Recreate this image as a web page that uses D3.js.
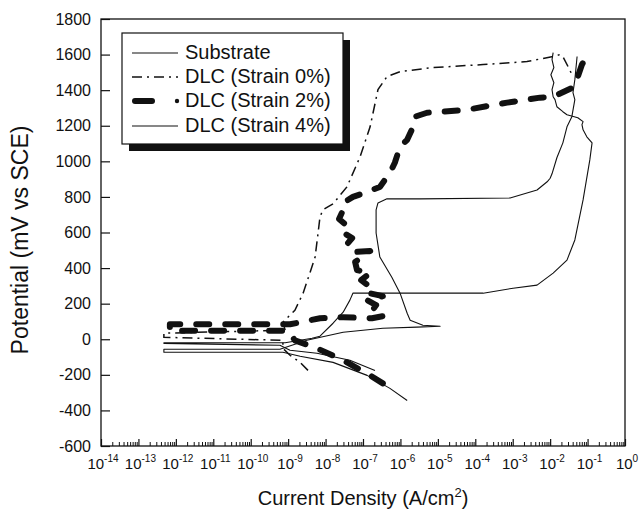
<!DOCTYPE html>
<html>
<head>
<meta charset="utf-8">
<script src="https://cdn.jsdelivr.net/npm/d3@7"></script>
<style>
  body { margin: 0; background: #fff; }
  svg { font-family: "Liberation Sans", Arial, sans-serif; }
  .thin { fill: none; stroke: #111; stroke-width: 1.1; stroke-linejoin: round; }
  .dashdot { fill: none; stroke: #111; stroke-width: 1.5; stroke-dasharray: 10,5,2,5; }
  .thick { fill: none; stroke: #111; stroke-width: 6; stroke-linecap: round; stroke-linejoin: round; stroke-dasharray: 13,16; }
</style>
</head>
<body>
<svg width="639" height="509"></svg>
<script>
// log10 of current density (A/cm2) and potential (mV vs SCE)

var substrateLogI = [-5.82, -6.28, -6.89, -7.80, -8.68, -9.14, -9.30, -12.32, -12.32, -9.22, -8.50, -7.53, -6.47, -5.56, -4.94, -5.40, -5.74, -5.82, -6.01, -6.23, -6.55, -6.65, -6.65, -6.60, -6.36, -5.48, -3.07, -2.35, -2.08, -2.0, -1.95, -1.82, -1.66, -1.55, -1.42, -1.34, -1.39, -1.34, -1.28];
var substrateE    = [-344, -276, -203, -130, -96, -73, -73, -73, -56, -56, -6, 39, 62, 68, 73, 79, 107, 146, 259, 349, 462, 597, 727, 766, 789, 789, 794, 839, 885, 905, 930, 1020, 1104, 1194, 1251, 1347, 1386, 1459, 1589];

var strain0LogI = [-8.47, -8.68, -8.95, -9.14, -9.14, -12.32, -12.32, -9.08, -9.14, -8.82, -8.60, -8.42, -8.28, -8.20, -8.15, -8.07, -7.94, -7.80, -7.43, -7.08, -6.81, -6.60, -6.36, -6.01, -5.13, -3.79, -2.62, -1.92, -1.74, -1.66, -1.52, -1.39];
var strain0E    = [-175, -130, -90, -51, -6, 11, 34, 51, 96, 163, 259, 372, 462, 597, 687, 727, 744, 761, 856, 1025, 1194, 1403, 1476, 1504, 1527, 1544, 1561, 1589, 1600, 1589, 1532, 1476];

var strain2LogI = [-6.47, -6.81, -7.53, -8.23, -8.82, -9.0, -12.16, -12.16, -8.95, -8.15, -7.53, -6.76, -6.47, -6.76, -6.65, -6.89, -6.47, -6.95, -6.87, -7.05, -6.81, -7.16, -7.21, -6.81, -7.32, -7.40, -7.29, -7.56, -7.45, -7.64, -7.53, -7.53, -7.27, -6.89, -6.55, -6.28, -6.15, -6.01, -5.82, -5.66, -5.61, -5.29, -4.22, -3.15, -2.27, -1.92, -1.34, -1.26, -1.15, -0.99];
var strain2E    = [-248, -203, -118, -51, -6, 48, 48, 84, 84, 118, 124, 118, 130, 158, 192, 220, 242, 265, 304, 332, 372, 389, 434, 496, 490, 541, 569, 603, 642, 676, 727, 766, 800, 828, 856, 935, 992, 1082, 1121, 1194, 1251, 1273, 1290, 1330, 1358, 1363, 1420, 1476, 1544, 1600];

var strain4LogI = [-6.68, -7.35, -8.23, -8.95, -9.22, -12.32, -12.32, -9.08, -8.36, -8.15, -7.80, -7.53, -7.35, -7.27, -5.48, -3.79, -2.99, -2.35, -1.92, -1.55, -1.34, -1.12, -0.94, -0.88, -1.02, -1.12, -1.15, -1.12, -1.26, -1.55, -1.66, -1.82, -1.87, -1.92, -1.95, -1.90, -1.98, -1.90, -1.95, -1.92];
var strain4E    = [-175, -118, -79, -62, -34, -23, -20, -20, 6, 17, 90, 152, 220, 259, 259, 259, 287, 304, 372, 445, 558, 783, 1008, 1104, 1138, 1177, 1206, 1223, 1245, 1262, 1279, 1307, 1347, 1363, 1403, 1442, 1487, 1527, 1572, 1611];

var legendLabels = ["Substrate", "DLC (Strain 0%)", "DLC (Strain 2%)", "DLC (Strain 4%)"];
var yTicks = [-600, -400, -200, 0, 200, 400, 600, 800, 1000, 1200, 1400, 1600, 1800];
var xDecades = [-14, -13, -12, -11, -10, -9, -8, -7, -6, -5, -4, -3, -2, -1, 0];

var svg = d3.select("svg");
var plotL = 101, plotR = 625, plotT = 19, plotB = 446;

var x = d3.scaleLog().domain([1e-14, 1]).range([plotL, plotR]);
var y = d3.scaleLinear().domain([-600, 1800]).range([plotB, plotT]);

svg.append("rect").attr("width", 639).attr("height", 509).attr("fill", "#fff");

svg.append("defs").append("clipPath").attr("id", "plot")
  .append("rect").attr("x", plotL).attr("y", plotT).attr("width", plotR - plotL).attr("height", plotB - plotT);

function pts(li, e) {
  return li.map(function(v, i) { return [Math.pow(10, v), e[i]]; });
}

var line = d3.line()
  .x(function(d) { return x(d[0]); })
  .y(function(d) { return y(d[1]); });

var curves = svg.append("g").attr("clip-path", "url(#plot)");

curves.append("path").attr("class", "thin").attr("d", line(pts(substrateLogI, substrateE)));
curves.append("path").attr("class", "thin").attr("d", line(pts(strain4LogI, strain4E)));
curves.append("path").attr("class", "dashdot").attr("d", line(pts(strain0LogI, strain0E)));
curves.append("path").attr("class", "thick").attr("d", line(pts(strain2LogI, strain2E)));

// y axis, ticks pointing inward
var yAxis = svg.append("g")
  .attr("transform", "translate(" + plotL + ",0)")
  .call(d3.axisLeft(y).tickValues(yTicks).tickSize(-9).tickPadding(10).tickFormat(function(d) { return String(d); }));
yAxis.select(".domain").remove();
yAxis.selectAll("line").attr("stroke", "#111").attr("stroke-width", 1.2);
yAxis.selectAll("text").attr("font-size", 16).attr("fill", "#111")
  .attr("font-family", "Liberation Sans, Arial, sans-serif");

// x axis: minor ticks then decades
var minor = [];
xDecades.slice(0, -1).forEach(function(k) {
  for (var m = 2; m <= 9; m++) minor.push(m * Math.pow(10, k));
});
var xMinor = svg.append("g")
  .attr("transform", "translate(0," + plotB + ")")
  .call(d3.axisBottom(x).tickValues(minor).tickSize(-4).tickFormat(""));
xMinor.select(".domain").remove();
xMinor.selectAll("line").attr("stroke", "#111").attr("stroke-width", 1);

var xMajor = svg.append("g")
  .attr("transform", "translate(0," + plotB + ")")
  .call(d3.axisBottom(x).tickValues(xDecades.map(function(k) { return Math.pow(10, k); })).tickSize(-7).tickFormat(""));
xMajor.select(".domain").remove();
xMajor.selectAll("line").attr("stroke", "#111").attr("stroke-width", 1.2);

var xl = svg.append("g").selectAll("text")
  .data(xDecades)
  .enter()
  .append("text")
  .attr("x", function(k) { return x(Math.pow(10, k)) + 2; })
  .attr("y", 469)
  .attr("text-anchor", "middle")
  .attr("font-size", 15)
  .attr("fill", "#111");
xl.append("tspan").text("10");
xl.append("tspan").attr("dy", -7).attr("font-size", 10).text(function(k) { return k; });

// frame
svg.append("rect")
  .attr("x", plotL).attr("y", plotT)
  .attr("width", plotR - plotL).attr("height", plotB - plotT)
  .attr("fill", "none").attr("stroke", "#111").attr("stroke-width", 1.3);

// axis titles
var xt = svg.append("text")
  .attr("x", (plotL + plotR) / 2).attr("y", 505)
  .attr("text-anchor", "middle").attr("font-size", 20).attr("fill", "#111");
xt.append("tspan").text("Current Density (A/cm");
xt.append("tspan").attr("dy", -8).attr("font-size", 13).text("2");
xt.append("tspan").attr("dy", 8).text(")");

svg.append("text")
  .attr("transform", "translate(28,240) rotate(-90)")
  .attr("text-anchor", "middle").attr("font-size", 23).attr("fill", "#111")
  .text("Potential (mV vs SCE)");

// legend with drop shadow
var lg = svg.append("g");
lg.append("rect").attr("x", 129).attr("y", 40).attr("width", 221).attr("height", 111).attr("fill", "#111");
lg.append("rect").attr("x", 122).attr("y", 33).attr("width", 221).attr("height", 111)
  .attr("fill", "#fff").attr("stroke", "#111").attr("stroke-width", 1.2);

var rowY = [52, 76, 100, 125];
var styles = ["thin", "dashdot", "thick", "thin"];
legendLabels.forEach(function(t, i) {
  if (i === 2) {
    lg.append("line").attr("x1", 135).attr("x2", 152).attr("y1", rowY[i] + 1).attr("y2", rowY[i] + 1)
      .attr("stroke", "#111").attr("stroke-width", 6).attr("stroke-linecap", "round");
    lg.append("circle").attr("cx", 177).attr("cy", rowY[i] + 1).attr("r", 2.2).attr("fill", "#111");
  } else {
    lg.append("line").attr("class", styles[i])
      .attr("x1", 132).attr("x2", 178).attr("y1", rowY[i] + 1).attr("y2", rowY[i] + 1);
  }
  lg.append("text").attr("x", 185).attr("y", rowY[i] + 7)
    .attr("font-size", 20).attr("fill", "#111").text(t);
});
</script>
</body>
</html>
